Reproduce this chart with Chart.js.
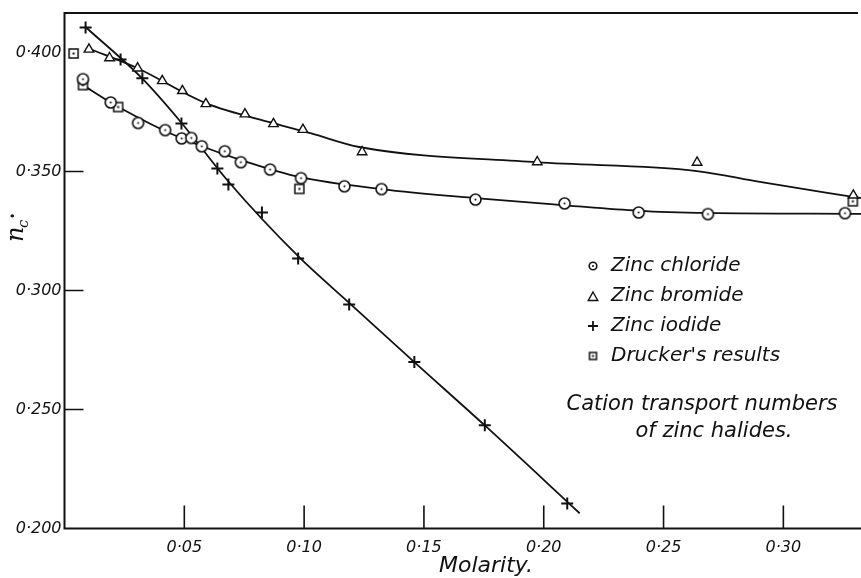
<!DOCTYPE html>
<html>
<head>
<meta charset="utf-8">
<script src="https://cdn.jsdelivr.net/npm/chart.js@4.4.0/dist/chart.umd.min.js"></script>
<style>
  html, body { margin: 0; padding: 0; background: #fff; }
  canvas { display: block; }
</style>
</head>
<body>
<canvas id="nc" width="861" height="578"></canvas>
<script>
// values (molarity, cation transport number)
var chlorideX = [0.0077, 0.0193, 0.0307, 0.0420, 0.0489, 0.0529, 0.0573, 0.0669, 0.0736, 0.0858, 0.0987, 0.1168, 0.1323, 0.1715, 0.2087, 0.2396, 0.2685, 0.3257];
var chlorideY = [0.3888, 0.3790, 0.3704, 0.3674, 0.3639, 0.3641, 0.3606, 0.3585, 0.3539, 0.3508, 0.3472, 0.3438, 0.3426, 0.3382, 0.3366, 0.3328, 0.3321, 0.3325];

var bromideX = [0.0102, 0.0188, 0.0305, 0.0408, 0.0492, 0.0590, 0.0753, 0.0872, 0.0995, 0.1242, 0.1973, 0.2640, 0.3292];
var bromideY = [0.4013, 0.3977, 0.3934, 0.3881, 0.3839, 0.3784, 0.3741, 0.3700, 0.3676, 0.3582, 0.3540, 0.3538, 0.3400];

var iodideX = [0.0088, 0.0234, 0.0325, 0.0488, 0.0638, 0.0684, 0.0824, 0.0975, 0.1188, 0.1460, 0.1754, 0.2098];
var iodideY = [0.4105, 0.3971, 0.3892, 0.3702, 0.3513, 0.3445, 0.3328, 0.3134, 0.2941, 0.2700, 0.2434, 0.2105];

var druckerX = [0.0038, 0.0077, 0.0224, 0.0980, 0.3290];
var druckerY = [0.3996, 0.3863, 0.3771, 0.3427, 0.3375];

// hand drawn smooth curves
var chlorideCurveX = [0.0077, 0.0193, 0.0420, 0.0573, 0.0737, 0.0984, 0.1322, 0.1715, 0.2087, 0.2396, 0.2685, 0.3324];
var chlorideCurveY = [0.3863, 0.3790, 0.3670, 0.3606, 0.3548, 0.3476, 0.3426, 0.3388, 0.3358, 0.3335, 0.3326, 0.3322];
var bromideCurveX = [0.0102, 0.0305, 0.0590, 0.0871, 0.1030, 0.1230, 0.1970, 0.2639, 0.2902, 0.3324];
var bromideCurveY = [0.4017, 0.3934, 0.3787, 0.3703, 0.3660, 0.3603, 0.3539, 0.3502, 0.3456, 0.3388];
var iodideCurveX = [0.0089, 0.0323, 0.0486, 0.0683, 0.0975, 0.1189, 0.1460, 0.1753, 0.2150];
var iodideCurveY = [0.4106, 0.3892, 0.3707, 0.3459, 0.3144, 0.2947, 0.2699, 0.2434, 0.2064];

var xTicks = [0.05, 0.10, 0.15, 0.20, 0.25, 0.30];
var yTicks = [0.200, 0.250, 0.300, 0.350, 0.400];
var legendNames = ['Zinc chloride', 'Zinc bromide', 'Zinc iodide', "Drucker's results"];
var titleLines = ['Cation transport numbers', 'of zinc halides.'];

var INK = '#111';
var FONT = '"DejaVu Sans", sans-serif';

function pts(xs, ys) {
	return xs.map(function (x, i) { return { x: x, y: ys[i] }; });
}
function fmt(v, d) {
	return Number(v).toFixed(d).replace('.', '\u00b7');
}

// little marker bitmaps (circle / square with a dot in the middle)
function markCircle(r) {
	var s = Math.ceil(r * 2 + 4), c = document.createElement('canvas');
	c.width = c.height = s;
	var g = c.getContext('2d');
	g.fillStyle = '#fff'; g.strokeStyle = INK; g.lineWidth = 1.6;
	g.beginPath(); g.arc(s / 2, s / 2, r, 0, Math.PI * 2); g.fill(); g.stroke();
	g.fillStyle = INK; g.beginPath(); g.arc(s / 2, s / 2, 1, 0, Math.PI * 2); g.fill();
	return c;
}
function markSquare(h) {
	var s = Math.ceil(h * 2 + 4), c = document.createElement('canvas');
	c.width = c.height = s;
	var g = c.getContext('2d');
	g.fillStyle = '#fff'; g.strokeStyle = INK; g.lineWidth = 1.5;
	g.fillRect(s / 2 - h, s / 2 - h, h * 2, h * 2);
	g.strokeRect(s / 2 - h, s / 2 - h, h * 2, h * 2);
	g.fillStyle = INK; g.fillRect(s / 2 - 1, s / 2 - 1, 2, 2);
	return c;
}
function drawTri(g, x, y, r) {
	g.beginPath();
	g.moveTo(x, y - r);
	g.lineTo(x + r * 0.95, y + r * 0.7);
	g.lineTo(x - r * 0.95, y + r * 0.7);
	g.closePath();
	g.fillStyle = '#fff'; g.fill();
	g.strokeStyle = INK; g.lineWidth = 1.4; g.stroke();
}
function drawPlus(g, x, y, r) {
	g.strokeStyle = INK; g.lineWidth = 1.8;
	g.beginPath();
	g.moveTo(x - r, y); g.lineTo(x + r, y);
	g.moveTo(x, y - r); g.lineTo(x, y + r);
	g.stroke();
}

var circleImg = markCircle(5.5);
var squareImg = markSquare(4.5);

// axes frame, inward ticks, axis titles, legend and caption
var decor = {
	id: 'decor',
	beforeDatasetsDraw: function (chart) {
		var g = chart.ctx, a = chart.chartArea;
		var sx = chart.scales.x, sy = chart.scales.y;
		g.save();
		g.strokeStyle = INK; g.lineWidth = 2;
		g.beginPath();
		g.moveTo(a.right - 3, a.top); g.lineTo(a.left, a.top);
		g.lineTo(a.left, a.bottom); g.lineTo(a.right, a.bottom);
		g.stroke();
		g.lineWidth = 1.6;
		g.beginPath();
		xTicks.forEach(function (v) {
			var px = sx.getPixelForValue(v);
			g.moveTo(px, a.bottom); g.lineTo(px, a.bottom - 23);
		});
		yTicks.forEach(function (v) {
			if (v <= 0.2 || v >= 0.4) return;
			var py = sy.getPixelForValue(v);
			g.moveTo(a.left, py); g.lineTo(a.left + 19, py);
		});
		g.stroke();
		g.restore();
	},
	afterDraw: function (chart) {
		var g = chart.ctx, a = chart.chartArea;
		g.save();
		g.fillStyle = INK;
		// x title
		g.font = 'italic 22px ' + FONT;
		g.textAlign = 'center'; g.textBaseline = 'middle';
		g.fillText('Molarity.', 486, 566);
		// y title n_c.
		g.translate(17, 232);
		g.rotate(-Math.PI / 2);
		g.textAlign = 'left'; g.textBaseline = 'alphabetic';
		g.font = 'italic 24px "DejaVu Serif", serif';
		g.fillText('n', -10, 6);
		g.font = 'italic 15px "DejaVu Serif", serif';
		g.fillText('c', 4, 11);
		g.font = 'bold 18px "DejaVu Serif", serif';
		g.fillText('\u00b7', 13, 2);
		g.restore();

		// legend
		g.save();
		var rows = [266, 296, 326, 356];
		g.font = 'italic 20px ' + FONT;
		g.textAlign = 'left'; g.textBaseline = 'middle';
		g.fillStyle = INK;
		legendNames.forEach(function (name, i) {
			g.fillText(name, 611, rows[i]);
		});
		var lc = markCircle(3.8), ls = markSquare(3.5);
		g.drawImage(lc, 593 - lc.width / 2, rows[0] - lc.height / 2);
		drawTri(g, 593, rows[1] + 1, 5);
		drawPlus(g, 593, rows[2], 5);
		g.drawImage(ls, 593 - ls.width / 2, rows[3] - ls.height / 2);
		// caption
		g.fillStyle = INK;
		g.font = 'italic 21px ' + FONT;
		g.textAlign = 'center';
		g.fillText(titleLines[0], 702, 405);
		g.fillText(titleLines[1], 714, 432);
		g.restore();
	}
};

var curve = function (xs, ys) {
	return {
		data: pts(xs, ys),
		showLine: true,
		borderColor: INK,
		borderWidth: 1.8,
		pointRadius: 0,
		cubicInterpolationMode: 'monotone',
		fill: false,
		order: 2
	};
};

var config = {
	type: 'scatter',
	data: {
		datasets: [
			{ label: legendNames[0], data: pts(chlorideX, chlorideY), pointStyle: circleImg, pointRadius: 6, order: 1 },
			{ label: legendNames[1], data: pts(bromideX, bromideY), pointStyle: 'triangle', pointRadius: 5.5,
			  pointBackgroundColor: '#fff', pointBorderColor: INK, pointBorderWidth: 1.4, order: 1 },
			{ label: legendNames[2], data: pts(iodideX, iodideY), pointStyle: 'cross', pointRadius: 6,
			  pointBorderColor: INK, pointBorderWidth: 2, order: 0 },
			{ label: legendNames[3], data: pts(druckerX, druckerY), pointStyle: squareImg, pointRadius: 5, order: 1 },
			curve(chlorideCurveX, chlorideCurveY),
			curve(bromideCurveX, bromideCurveY),
			curve(iodideCurveX, iodideCurveY)
		]
	},
	options: {
		responsive: false,
		devicePixelRatio: 1,
		animation: false,
		clip: false,
		layout: { autoPadding: false, padding: { top: 13, right: 0, bottom: 0, left: 0 } },
		plugins: {
			legend: { display: false },
			tooltip: { enabled: false }
		},
		scales: {
			x: {
				type: 'linear', min: 0, max: 0.3324,
				grid: { display: false, drawTicks: false },
				border: { display: false },
				afterBuildTicks: function (s) { s.ticks = xTicks.map(function (v) { return { value: v }; }); },
				afterFit: function (s) { s.height = 49.5; },
				ticks: {
					autoSkip: false, maxRotation: 0, padding: 10, color: INK,
					font: { family: FONT, style: 'italic', size: 16 },
					callback: function (v) { return fmt(v, 2); }
				}
			},
			y: {
				type: 'linear', min: 0.2, max: 0.4166,
				grid: { display: false, drawTicks: false },
				border: { display: false },
				afterBuildTicks: function (s) { s.ticks = yTicks.map(function (v) { return { value: v }; }); },
				afterFit: function (s) { s.width = 64.5; },
				ticks: {
					autoSkip: false, padding: 3, color: INK,
					font: { family: FONT, style: 'italic', size: 16 },
					callback: function (v) { return fmt(v, 3); }
				}
			}
		}
	},
	plugins: [decor]
};

new Chart(document.getElementById('nc'), config);
</script>
</body>
</html>
